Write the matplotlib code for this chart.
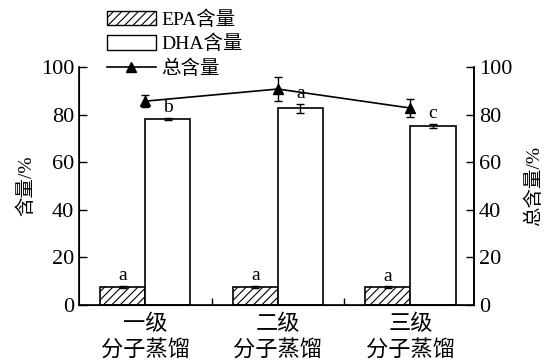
import numpy as np
import matplotlib.pyplot as plt
from matplotlib.patches import Patch
from matplotlib.lines import Line2D

plt.rcParams['font.family'] = ['Liberation Serif', 'Noto Sans CJK SC']
plt.rcParams['hatch.linewidth'] = 0.8

# data
groups = ['一级\n分子蒸馏', '二级\n分子蒸馏', '三级\n分子蒸馏']
epa = [7.6, 7.6, 7.5]
epa_err = [0.4, 0.4, 0.3]
dha = [78.2, 82.8, 75.3]
dha_err = [0.5, 1.9, 0.8]
total = [85.7, 90.8, 82.8]
total_err = [2.5, 5.0, 3.8]
epa_letters = ['a', 'a', 'a']
dha_letters = ['b', 'a', 'c']

x = np.arange(len(groups))
w = 0.34

fig = plt.figure(figsize=(5.5, 3.61), dpi=100)
ax = fig.add_axes([0.1436, 0.155, 0.7184, 0.659])

ekw = dict(elinewidth=1.0, capthick=1.0)
ax.bar(x - w / 2, epa, w, facecolor='white', edgecolor='black', hatch='////',
       linewidth=1.2, yerr=epa_err, capsize=3, error_kw=ekw)
ax.bar(x + w / 2, dha, w, facecolor='white', edgecolor='black',
       linewidth=1.2, yerr=dha_err, capsize=3, error_kw=ekw)

for i in range(len(x)):
    ax.text(x[i] - w / 2, epa[i] + epa_err[i] + 0.8, epa_letters[i],
            ha='center', va='bottom', fontsize=14)
    ax.text(x[i] + w / 2, dha[i] + dha_err[i] + 0.8, dha_letters[i],
            ha='center', va='bottom', fontsize=14)

ax.set_xlim(-0.5, 2.48)
ax.set_ylim(0, 100)
ax.set_yticks([0, 20, 40, 60, 80, 100])
ax.set_xticks(x)
ax.set_xticklabels(groups, fontsize=16, linespacing=1.3)
ax.tick_params(axis='x', length=0, pad=7)
ax.set_xticks([0.5, 1.5], minor=True)
ax.tick_params(axis='x', which='minor', direction='in', length=5, width=1.0)
ax.tick_params(axis='y', direction='in', length=6, width=1.0, labelsize=16)
ax.set_ylabel('含量/%', fontsize=14, labelpad=4)
ax.spines['top'].set_visible(False)
for s in ['left', 'bottom', 'right']:
    ax.spines[s].set_linewidth(1.2)

ax2 = ax.twinx()
ax2.errorbar(x, total, yerr=total_err, color='black', marker='^', markersize=7,
             linewidth=1.2, capsize=3, elinewidth=1.0, capthick=1.0)
ax2.set_ylim(0, 100)
ax2.set_yticks([0, 20, 40, 60, 80, 100])
ax2.tick_params(axis='y', direction='in', length=6, width=1.0, labelsize=16)
ax2.set_ylabel('总含量/%', fontsize=14, rotation=90, labelpad=9)
ax2.spines['top'].set_visible(False)
ax2.spines['right'].set_linewidth(1.2)

handles = [
    Patch(facecolor='white', edgecolor='black', hatch='////', linewidth=1.0),
    Patch(facecolor='white', edgecolor='black', linewidth=1.0),
    Line2D([0], [0], color='black', marker='^', markersize=7, linewidth=1.2),
]
fig.legend(handles, ['EPA含量', 'DHA含量', '总含量'], loc='upper left',
           bbox_to_anchor=(0.168, 1.012), frameon=False, fontsize=14,
           handlelength=2.5, handleheight=0.8, handletextpad=0.3,
           labelspacing=0.32, borderpad=0.25)

fig.savefig('out.png', dpi=100)
